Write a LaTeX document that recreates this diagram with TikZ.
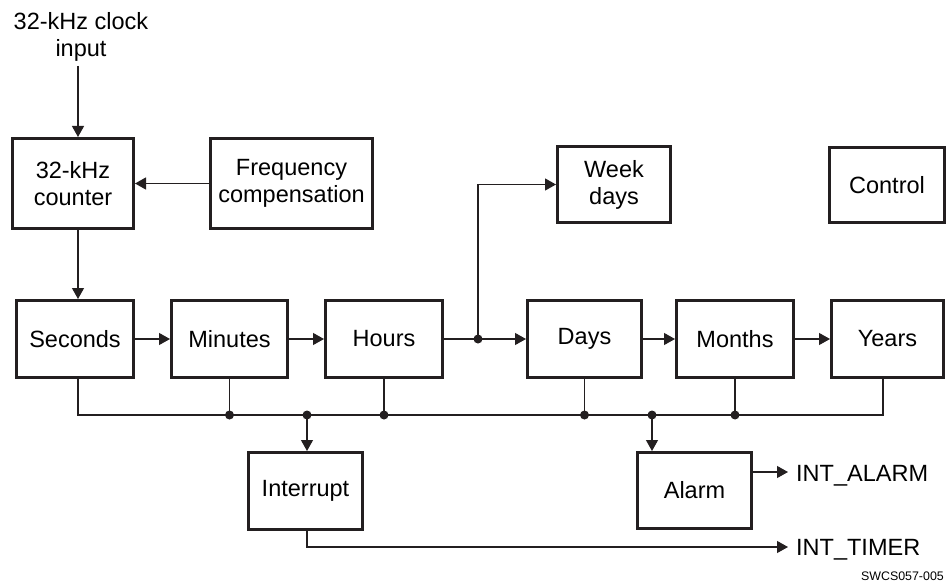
\documentclass[tikz,border=0pt]{standalone}
\usepackage{fontspec}
\setmainfont{Liberation Sans}
\usetikzlibrary{arrows.meta}
\definecolor{ink}{HTML}{231F20}
\begin{document}
\begin{tikzpicture}[x=1pt,y=-1pt,
  blk/.style={draw=ink, line width=3pt, fill=white, align=center, inner sep=0pt,
              font=\fontsize{23.5}{27}\selectfont, text=black},
  con/.style={draw=ink, line width=1.2pt},
  arr/.style={con, -{Triangle[length=11pt,width=12pt]}},
  dot/.style={circle, fill=ink, inner sep=0pt, minimum size=9pt},
  lbl/.style={font=\fontsize{23.5}{27}\selectfont, align=center, inner sep=0pt, text=black}]
\useasboundingbox (0,0) rectangle (947,583);

% blocks
\node[blk, minimum width=121pt, minimum height=90pt] (cnt) at (73,183.5) {32-kHz\\counter};
\node[blk, minimum width=162pt, minimum height=90pt] (frq) at (291.5,183.5) {Frequency\\compensation};
\node[blk, minimum width=113pt, minimum height=76pt] (wk) at (614,184.5) {Week\\days};
\node[blk, minimum width=115pt, minimum height=75pt] (ctl) at (887,185) {Control};

\node[blk, minimum width=117pt, minimum height=77pt] (sec) at (75,339) {Seconds};
\node[blk, minimum width=116pt, minimum height=77pt] (min) at (229.5,339) {Minutes};
\node[blk, minimum width=117pt, minimum height=77pt] (hrs) at (384,339) {Hours};
\node[blk, minimum width=114pt, minimum height=77pt] (day) at (584.5,339) {Days};
\node[blk, minimum width=117pt, minimum height=77pt] (mon) at (735,339) {Months};
\node[blk, minimum width=112pt, minimum height=77pt] (yrs) at (887.5,339) {Years};

\node[blk, minimum width=114pt, minimum height=77pt] (int) at (305.5,491) {Interrupt};
\node[blk, minimum width=114pt, minimum height=76pt] (alm) at (694.5,490.5) {Alarm};

% labels
\node[lbl, anchor=north] (clk) at (81,12.3) {32-kHz clock\\input};
\node[lbl, anchor=base west] (oA) at (796,481.7) {INT\_ALARM};
\node[lbl, anchor=base west] (oT) at (796,555) {INT\_TIMER};
\node[anchor=base east, inner sep=0pt, text=black, font=\fontsize{12.4}{14}\selectfont] (ref) at (944,580.7) {SWCS057-005};

% helper coordinates
\coordinate (cin) at (78,66);
\coordinate (b0) at (78,415);
\coordinate (b1) at (883,415);
\coordinate (pA) at (788,472);
\coordinate (pT) at (788,547);

% top connectors
\draw[arr] (cin) -- (cnt.north -| cin);
\draw[arr] (frq.west) -- (cnt.east);
\draw[arr] (cnt.south -| cin) -- (sec.north -| cin);

% main chain
\node[dot] (j1) at (478,339) {};
\draw[arr] (sec.east) -- (min.west);
\draw[arr] (min.east) -- (hrs.west);
\draw[con] (hrs.east) -- (j1.center);
\draw[arr] (j1.center) -- (day.west);
\draw[arr] (j1.center) |- (wk.west);
\draw[arr] (day.east) -- (mon.west);
\draw[arr] (mon.east) -- (yrs.west);

% bus
\draw[con] (sec.south -| b0) -- (b0) -- (b1) -- (b1 |- yrs.south);
\node[dot] (dm) at (min.south |- b0) {};
\node[dot] (dh) at (hrs.south |- b0) {};
\node[dot] (dd) at (day.south |- b0) {};
\node[dot] (dn) at (mon.south |- b0) {};
\node[dot] (di) at (307,415) {};
\node[dot] (da) at (652,415) {};
\draw[con] (min.south) -- (dm.center);
\draw[con] (hrs.south) -- (dh.center);
\draw[con] (day.south) -- (dd.center);
\draw[con] (mon.south) -- (dn.center);
\draw[arr] (di.center) -- (int.north -| di);
\draw[arr] (da.center) -- (alm.north -| da);

% outputs
\draw[arr] (alm.east |- pA) -- (pA);
\draw[arr] (int.south -| di) |- (pT);
\end{tikzpicture}
\end{document}
